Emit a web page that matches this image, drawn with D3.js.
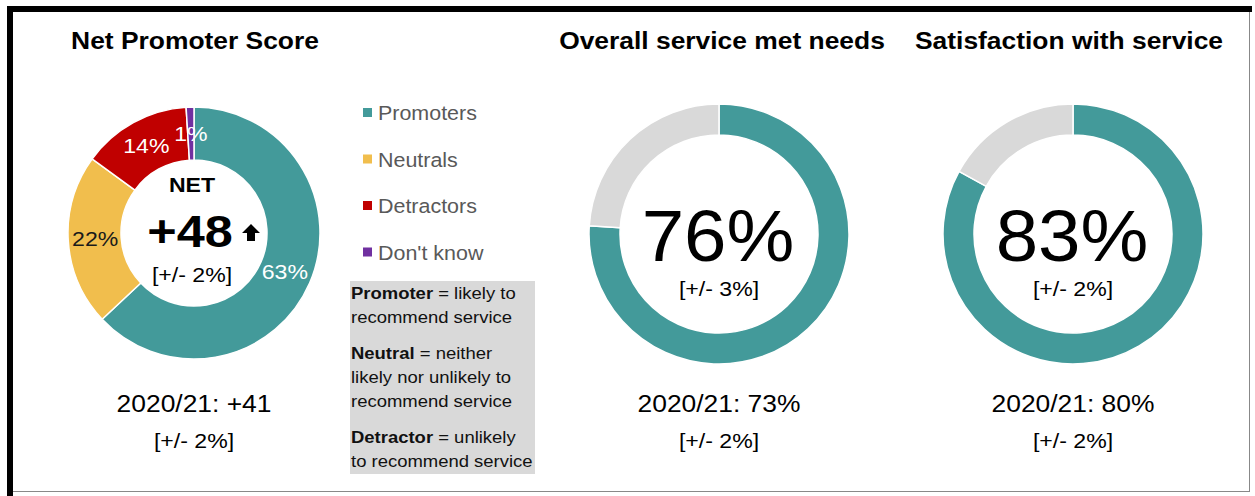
<!DOCTYPE html>
<html>
<head>
<meta charset="utf-8">
<script src="https://d3js.org/d3.v7.min.js"></script>
<style>
  body { margin: 0; background: #fff; }
  text { font-family: "Liberation Sans", Arial, sans-serif; }
</style>
</head>
<body>
<div id="chart"></div>
<script>
// data
var npsCategories = ["Promoters", "Neutrals", "Detractors", "Don't know"];
var npsValues = [63, 22, 14, 1];
var npsColors = ["#439a9a", "#f1be4d", "#c00000", "#7030a0"];
var npsLabelColors = ["#ffffff", "#1a1a1a", "#ffffff", "#ffffff"];
var npsNet = "+48";
var npsMargin = "[+/- 2%]";
var npsPrevious = "2020/21: +41";
var npsPrevMargin = "[+/- 2%]";

var gaugeTitles = ["Overall service met needs", "Satisfaction with service"];
var gaugeValues = [76, 83];
var gaugeMargins = ["[+/- 3%]", "[+/- 2%]"];
var gaugePrevious = ["2020/21: 73%", "2020/21: 80%"];
var gaugePrevMargins = ["[+/- 2%]", "[+/- 2%]"];

var definitions = [
  [["Promoter", " = likely to"], ["", "recommend service"]],
  [["Neutral", " = neither"], ["", "likely nor unlikely to"], ["", "recommend service"]],
  [["Detractor", " = unlikely"], ["", "to recommend service"]]
];

var width = 1255, height = 496;
var teal = "#439a9a", grey = "#d9d9d9";
var stretch = 1.1; // the source text is a little wider than plain Arial

var svg = d3.select("#chart").append("svg")
  .attr("width", width)
  .attr("height", height);

// writes a text slightly stretched sideways around its anchor point
function label(parent, x, y, str, size, bold, anchor, sx) {
  return parent.append("text")
    .attr("transform", "translate(" + x + "," + y + ") scale(" + (sx || stretch) + ",1)")
    .attr("text-anchor", anchor || "middle")
    .style("font-size", size + "px")
    .style("font-weight", bold ? "bold" : "normal")
    .text(str);
}

// frame
svg.append("rect").attr("x", 7).attr("y", 6).attr("width", 1245).attr("height", 6).attr("fill", "#000");
svg.append("rect").attr("x", 7).attr("y", 6).attr("width", 6).attr("height", 490).attr("fill", "#000");
svg.append("line").attr("x1", 1249.5).attr("x2", 1249.5).attr("y1", 12).attr("y2", 492).attr("stroke", "#888").attr("stroke-width", 1);
svg.append("line").attr("x1", 13).attr("x2", 1250).attr("y1", 491.5).attr("y2", 491.5).attr("stroke", "#888").attr("stroke-width", 1);

var pie = d3.pie().sort(null).value(function(d) { return d; });

// ---- Net Promoter Score donut
label(svg, 195, 49, "Net Promoter Score", 24, true);

var nps = svg.append("g").attr("transform", "translate(194,233)");
var npsArc = d3.arc().innerRadius(73).outerRadius(126);
var npsLabelArc = d3.arc().innerRadius(99).outerRadius(99);

nps.selectAll("path.slice")
  .data(pie(npsValues))
  .enter().append("path")
    .attr("class", "slice")
    .attr("d", npsArc)
    .attr("fill", function(d, i) { return npsColors[i]; })
    .attr("stroke", "#fff")
    .attr("stroke-width", 1.5);

nps.selectAll("g.lbl")
  .data(pie(npsValues))
  .enter().append("g")
    .attr("class", "lbl")
    .each(function(d, i) {
      var c = npsLabelArc.centroid(d);
      label(d3.select(this), c[0], c[1] + 7, d.data + "%", 21, false)
        .attr("fill", npsLabelColors[i]);
    });

label(nps, -2, -41, "NET", 21, true);
label(nps, -4, 14, npsNet, 45, true, "middle", 1.12);
// up arrow next to the net score
nps.append("path")
  .attr("d", "M48,0 L66,0 L57,-9 Z M53,0 L61,0 L61,8 L53,8 Z")
  .attr("fill", "#000");
label(nps, -2, 49, npsMargin, 21, false);

label(svg, 194, 412, npsPrevious, 24, false);
label(svg, 194, 448, npsPrevMargin, 21, false);

// ---- legend
var legend = svg.append("g").attr("transform", "translate(363,113)");
var legendRow = legend.selectAll("g")
  .data(npsCategories)
  .enter().append("g")
    .attr("transform", function(d, i) { return "translate(0," + (i * 46.5) + ")"; });
legendRow.append("rect")
  .attr("x", 0).attr("y", -5).attr("width", 9).attr("height", 9)
  .attr("fill", function(d, i) { return npsColors[i]; });
legendRow.each(function(d) {
  label(d3.select(this), 15, 7, d, 19.5, false, "start").attr("fill", "#595959");
});

// ---- definitions box
svg.append("rect").attr("x", 350).attr("y", 281).attr("width", 185).attr("height", 193).attr("fill", "#d9d9d9");
var defG = svg.append("g").attr("transform", "translate(351,299) scale(" + stretch + ",1)");
var yPos = 0;
definitions.forEach(function(par) {
  par.forEach(function(line) {
    var t = defG.append("text").attr("x", 0).attr("y", yPos)
      .attr("fill", "#111").style("font-size", "16.8px");
    if (line[0]) t.append("tspan").style("font-weight", "bold").text(line[0]);
    t.append("tspan").text(line[1]);
    yPos += 24;
  });
  yPos += 12;
});

// ---- the two gauges
var gaugeArc = d3.arc().innerRadius(99).outerRadius(130);
var gaugeCx = [719, 1073];
var titleCx = [722, 1069];

gaugeValues.forEach(function(v, i) {
  label(svg, titleCx[i], 49, gaugeTitles[i], 24, true);

  var g = svg.append("g").attr("transform", "translate(" + gaugeCx[i] + ",234)");
  g.selectAll("path")
    .data(pie([v, 100 - v]))
    .enter().append("path")
      .attr("d", gaugeArc)
      .attr("fill", function(d, j) { return j === 0 ? teal : grey; })
      .attr("stroke", "#fff")
      .attr("stroke-width", 1.5);

  label(g, -1, 27, v + "%", 72, false, "middle", 1.06);
  label(g, 0, 62, gaugeMargins[i], 21, false);

  label(svg, gaugeCx[i], 412, gaugePrevious[i], 24, false);
  label(svg, gaugeCx[i], 448, gaugePrevMargins[i], 21, false);
});
</script>
</body>
</html>
